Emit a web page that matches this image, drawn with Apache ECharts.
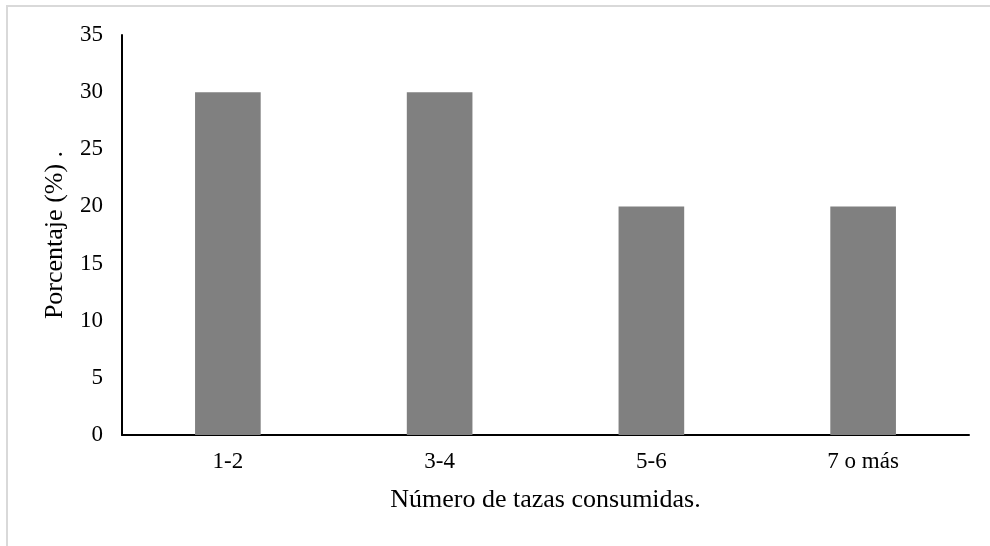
<!DOCTYPE html>
<html><head><meta charset="utf-8">
<script src="https://cdn.jsdelivr.net/npm/echarts@6/dist/echarts.min.js"></script>
<style>html,body{margin:0;padding:0;background:#fff}#c{width:990px;height:546px}</style>
</head><body><div id="c"></div>
<script>
const categories = ['1-2', '3-4', '5-6', '7 o más'];
const values = [30, 30, 20, 20];
const yTicks = [0, 5, 10, 15, 20, 25, 30, 35];
const xName = 'Número de tazas consumidas.';
const yName = 'Porcentaje (%) .';

const font = '"Liberation Serif", "Times New Roman", serif';
const chart = echarts.init(document.getElementById('c'), null, {renderer: 'canvas'});
chart.setOption({
  backgroundColor: '#fff',
  animation: false,
  grid: {left: 122, right: 21, top: 35, bottom: 111, containLabel: false},
  graphic: [
    {type: 'line', shape: {x1: 6, y1: 6, x2: 990, y2: 6}, style: {stroke: '#d9d9d9', lineWidth: 2}},
    {type: 'line', shape: {x1: 7, y1: 6, x2: 7, y2: 546}, style: {stroke: '#d9d9d9', lineWidth: 2}}
  ],
  xAxis: {
    type: 'category',
    data: categories,
    name: xName,
    nameLocation: 'middle',
    nameGap: 52,
    nameTextStyle: {fontFamily: font, fontSize: 26, color: '#000'},
    axisLine: {lineStyle: {color: '#000', width: 2}},
    axisTick: {show: false},
    axisLabel: {fontFamily: font, fontSize: 23, color: '#000', margin: 15}
  },
  yAxis: {
    type: 'value',
    min: yTicks[0],
    max: yTicks[yTicks.length - 1],
    interval: 5,
    name: yName,
    nameLocation: 'middle',
    nameGap: 54,
    nameTextStyle: {fontFamily: font, fontSize: 26, color: '#000'},
    axisLine: {show: true, lineStyle: {color: '#000', width: 2}},
    axisTick: {show: false},
    splitLine: {show: false},
    axisLabel: {fontFamily: font, fontSize: 23, color: '#000', margin: 19}
  },
  series: [{
    type: 'bar',
    data: values,
    barWidth: '31%',
    itemStyle: {color: '#808080'}
  }]
});
</script></body></html>
